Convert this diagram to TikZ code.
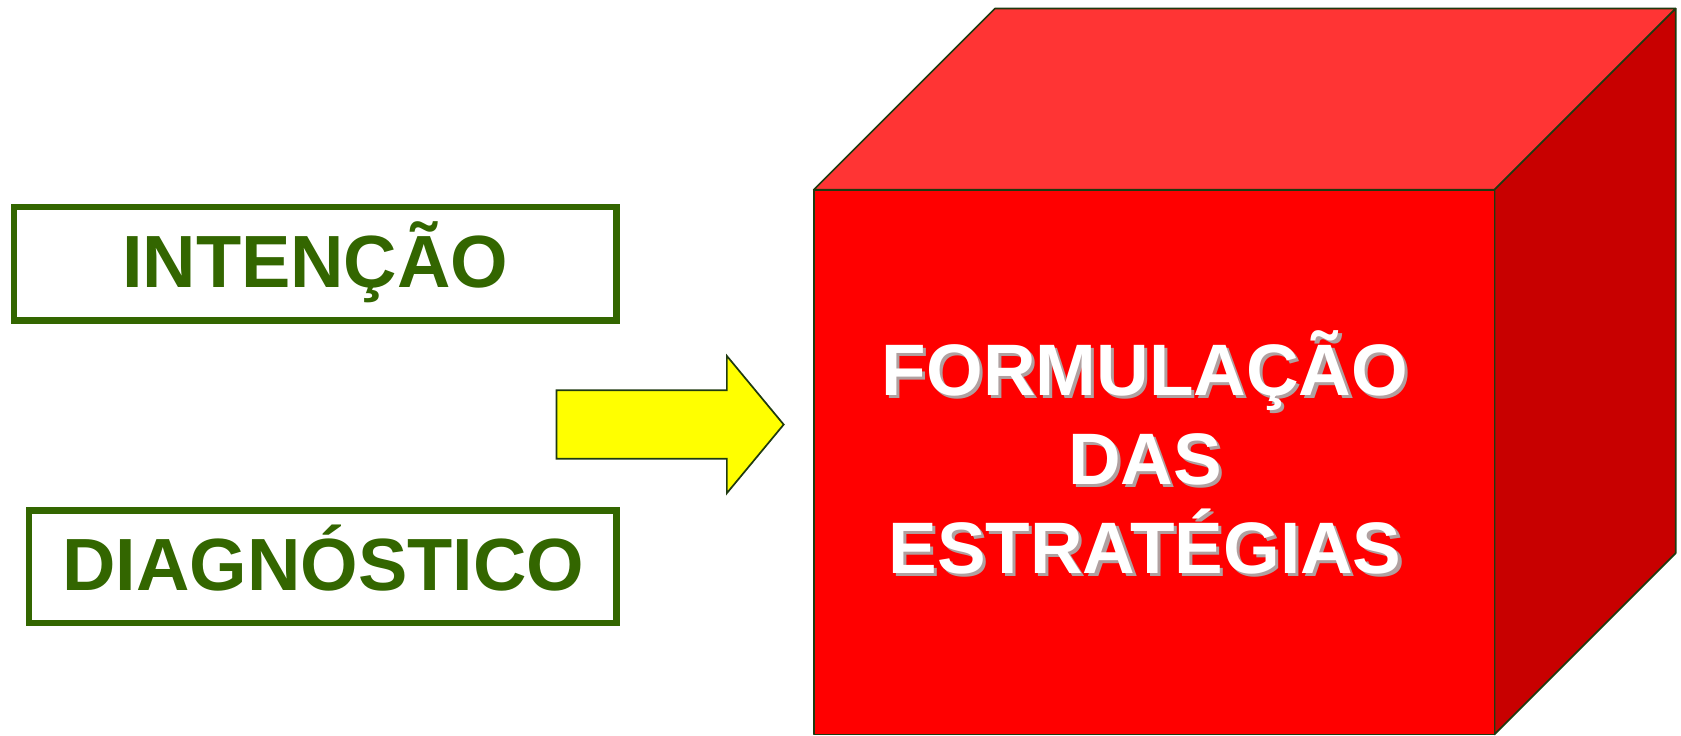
\documentclass[tikz,border=0pt]{standalone}
\usepackage{fontspec}
\setmainfont{Liberation Sans}
\definecolor{lblgreen}{HTML}{336600}
\definecolor{edgegreen}{HTML}{1F3A10}
\definecolor{cubefront}{HTML}{FF0000}
\definecolor{cubetop}{HTML}{FF3434}
\definecolor{cubeside}{HTML}{C80000}
\definecolor{arrowyellow}{HTML}{FFFF00}
\definecolor{shadowgray}{HTML}{B0A0A0}
\tikzset{
  labelbox/.style={draw=lblgreen, line width=3pt, fill=white},
  labeltext/.style={text=lblgreen, font=\fontsize{34.5}{40}\selectfont\bfseries, anchor=base, inner sep=0pt},
  cubeface/.style={draw=edgegreen, line width=0.8pt, line join=round},
  cubetext/.style={font=\fontsize{34}{41.5}\selectfont\bfseries, align=center, anchor=base, inner sep=0pt},
}
\begin{document}
\begin{tikzpicture}[x=0.5pt,y=-0.5pt]
\useasboundingbox (0,0) rectangle (1568,686);
% label boxes
\draw[labelbox] (13,193) rectangle (575,299);
\node[labeltext] (intencao) at (294,268.5) {INTENÇÃO};
\draw[labelbox] (27,476) rectangle (575,581);
\node[labeltext] (diagnostico) at (301.5,551) {DIAGNÓSTICO};
% arrow
\draw[fill=arrowyellow, draw=edgegreen, line width=0.8pt, line join=miter]
  (519,364) -- (678,364) -- (678,332) -- (731,396) -- (678,460) -- (678,428) -- (519,428) -- cycle;
% cube
\draw[cubeface, fill=cubetop] (759,177) -- (928,8) -- (1563,8) -- (1394,177) -- cycle;
\draw[cubeface, fill=cubeside] (1394,177) -- (1563,8) -- (1563,516) -- (1394,685) -- cycle;
\draw[cubeface, fill=cubefront] (759,177) rectangle (1394,685);
% cube text with shadow
\node[cubetext, text=shadowgray] (formshadow) at (1071,538) {FORMULAÇÃO\\DAS\\ESTRATÉGIAS};
\node[cubetext, text=white] (formulacao) at (1068,535) {FORMULAÇÃO\\DAS\\ESTRATÉGIAS};
\end{tikzpicture}
\end{document}
